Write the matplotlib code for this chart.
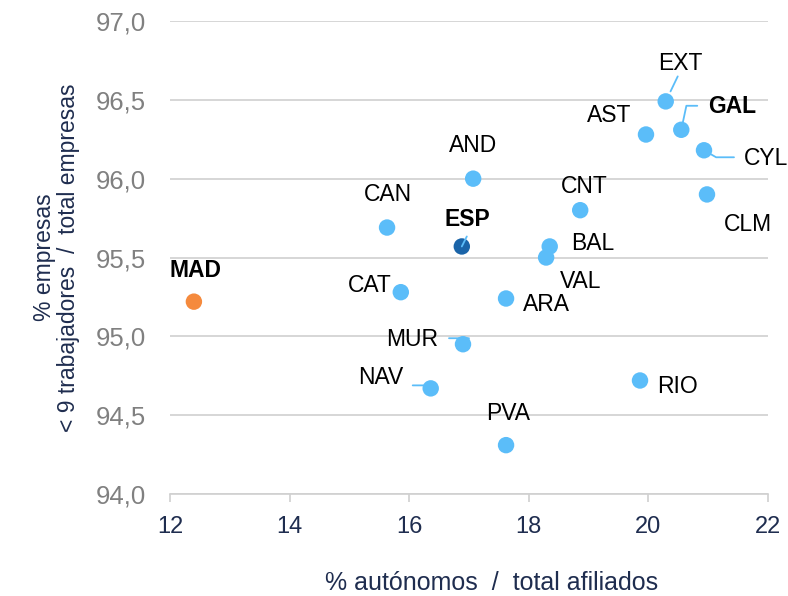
import matplotlib.pyplot as plt

plt.rcParams['font.family'] = ['Liberation Sans', 'DejaVu Sans']

regiones = ['MAD', 'CAN', 'CAT', 'ESP', 'AND', 'MUR', 'NAV', 'PVA', 'ARA', 'BAL',
            'VAL', 'CNT', 'RIO', 'AST', 'EXT', 'GAL', 'CYL', 'CLM']
autonomos = [12.40, 15.63, 15.86, 16.88, 17.07, 16.90, 16.36, 17.62, 17.62, 18.35,
             18.29, 18.86, 19.86, 19.96, 20.29, 20.55, 20.93, 20.98]
empresas = [95.22, 95.69, 95.28, 95.57, 96.00, 94.95, 94.67, 94.31, 95.24, 95.57,
            95.50, 95.80, 94.72, 96.28, 96.49, 96.31, 96.18, 95.90]

# posicion de las etiquetas (x, y en datos)
etiquetas = {
    'MAD': (12.43, 95.42), 'CAN': (15.65, 95.90), 'CAT': (15.34, 95.32),
    'ESP': (16.98, 95.74), 'AND': (17.07, 96.21), 'MUR': (16.05, 94.98),
    'NAV': (15.53, 94.74), 'PVA': (17.65, 94.51), 'ARA': (18.30, 95.20),
    'BAL': (19.07, 95.59), 'VAL': (18.87, 95.35), 'CNT': (18.92, 95.95),
    'RIO': (20.49, 94.68), 'AST': (19.34, 96.40), 'EXT': (20.53, 96.73),
    'GAL': (21.40, 96.46), 'CYL': (21.97, 96.13), 'CLM': (21.67, 95.71),
}
# lineas guia: (desplazamiento en pixeles, estilo de conexion, recorte)
guias = {
    'EXT': ((12, 25), 'arc3', 8),
    'GAL': ((16, 24), 'angle,angleA=0,angleB=78,rad=0', 1),
    'CYL': ((30, -7), 'angle,angleA=0,angleB=-30,rad=0', 1),
    'MUR': ((-14, 6), 'angle,angleA=0,angleB=45,rad=0', 1),
    'NAV': ((-18, 3), 'angle,angleA=0,angleB=135,rad=0', 1),
    'ESP': ((5, 10), 'arc3', 0),
}
negrita = ['MAD', 'ESP', 'GAL']

azul = '#5bbdf9'
colores = []
for r in regiones:
    if r == 'MAD':
        colores.append('#f58a3d')
    elif r == 'ESP':
        colores.append('#1a64a8')
    else:
        colores.append(azul)

fig = plt.figure(figsize=(7.88, 5.96), dpi=100)
ax = fig.add_axes([0.2157, 0.1711, 0.7589, 0.7937])

ax.scatter(autonomos, empresas, s=140, c=colores, zorder=3, linewidths=0)

for r, x, y in zip(regiones, autonomos, empresas):
    tx, ty = etiquetas[r]
    peso = 'bold' if r in negrita else 'normal'
    ax.text(tx, ty, r, ha='center', va='center', fontsize=16.5,
            fontweight=peso, color='black')
    if r in guias:
        off, estilo, rec = guias[r]
        ax.annotate('', xy=(x, y), xytext=off, textcoords='offset pixels',
                    arrowprops=dict(arrowstyle='-', color=azul, lw=1.3,
                                    connectionstyle=estilo,
                                    shrinkA=0, shrinkB=rec), zorder=4)

ax.set_xlim(12, 22)
ax.set_ylim(94, 97)
ax.set_xticks(range(12, 23, 2))
ax.set_yticks([94.0, 94.5, 95.0, 95.5, 96.0, 96.5, 97.0])
ax.set_yticklabels(['94,0', '94,5', '95,0', '95,5', '96,0', '96,5', '97,0'])
ax.grid(axis='y', color='#d0d0d0', lw=1.2)
ax.set_axisbelow(True)
for lado in ['top', 'right', 'left']:
    ax.spines[lado].set_visible(False)
ax.spines['bottom'].set_color('#d0d0d0')
ax.spines['bottom'].set_linewidth(1.2)
ax.tick_params(axis='x', colors='#d0d0d0', labelcolor='#1f2d4f', labelsize=17,
               length=6, width=1.2, pad=10)
ax.tick_params(axis='y', labelcolor='#808080', labelsize=18.5, length=0, pad=17)

ax.set_xlabel('% autónomos  /  total afiliados', fontsize=18, color='#1f2d4f')
ax.xaxis.set_label_coords(0.537, -0.188)
ax.xaxis.label.set_va('center')
ax.set_ylabel('% empresas\n< 9 trabajadores  /  total empresas', fontsize=16.5,
              color='#1f2d4f', linespacing=1.05)
ax.yaxis.set_label_coords(-0.19, 0.5)
ax.yaxis.label.set_va('center')

fig.savefig('out.png')
